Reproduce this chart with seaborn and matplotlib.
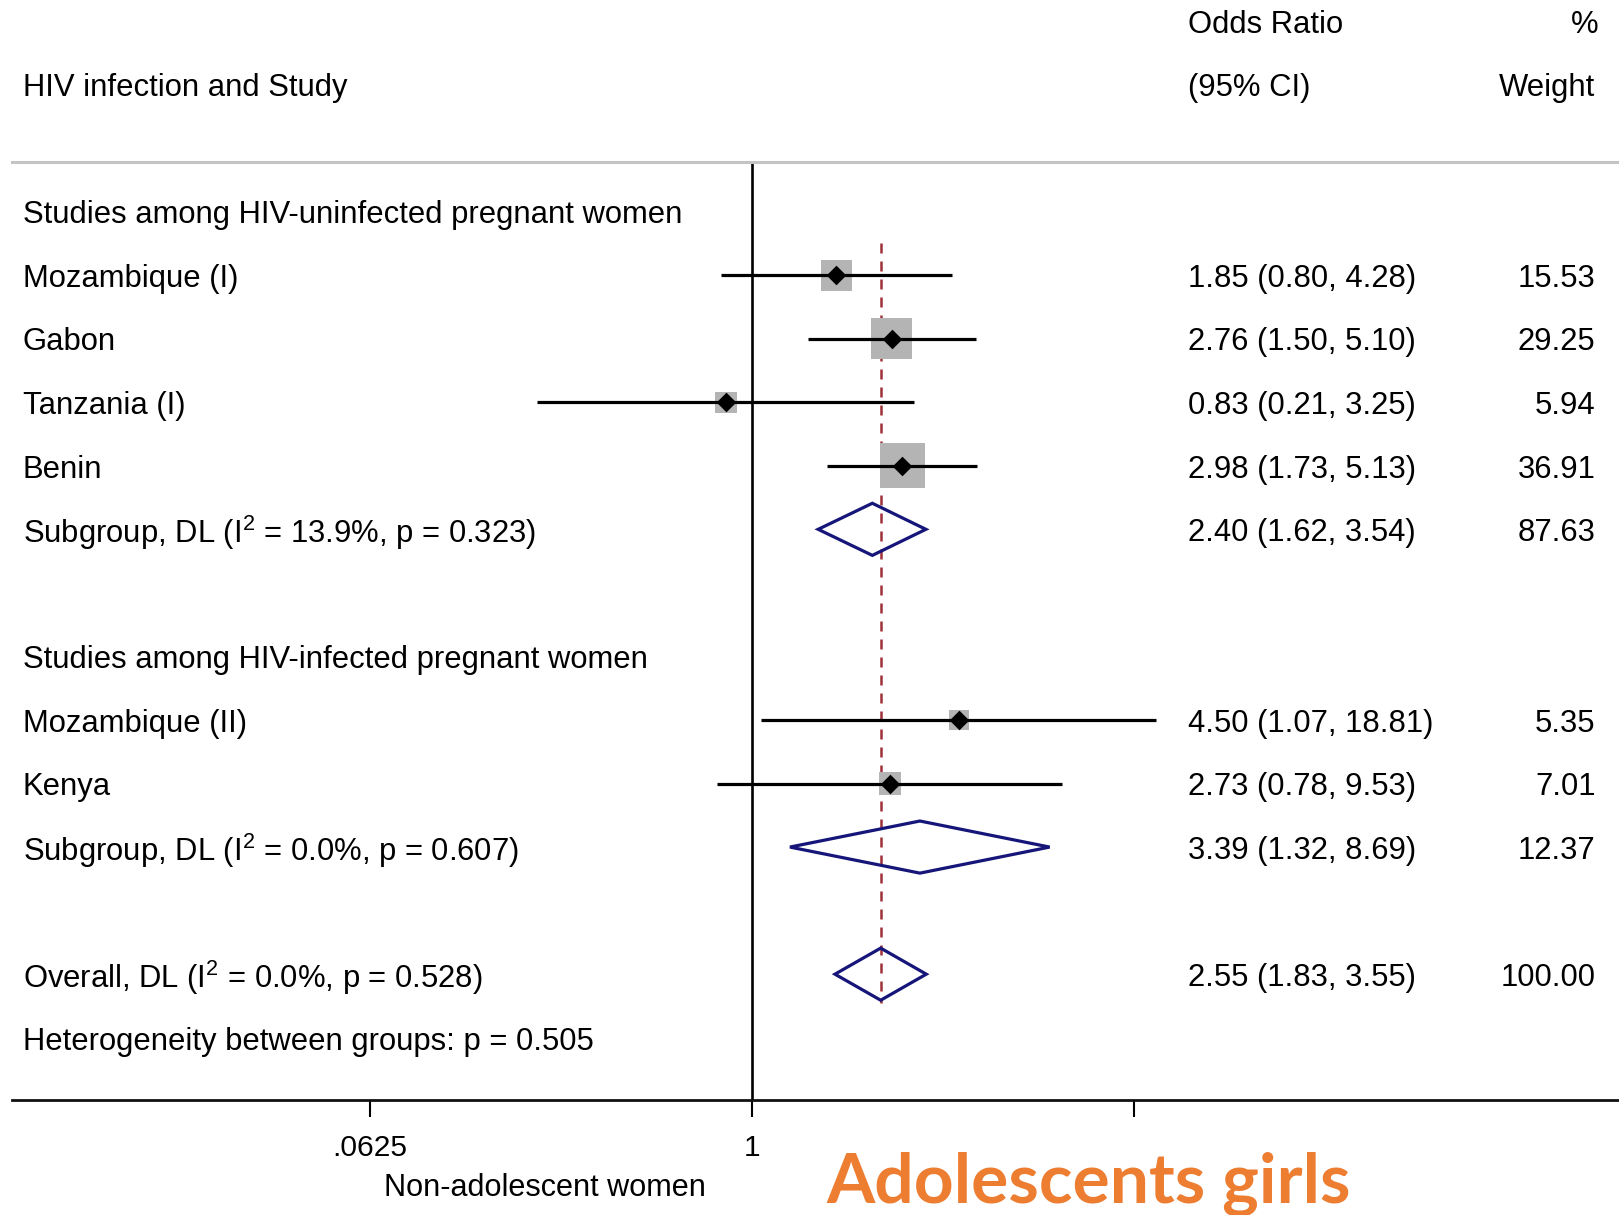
import numpy as np
import pandas as pd
import matplotlib
matplotlib.use("Agg")
import matplotlib.pyplot as plt
import matplotlib.transforms as mtransforms
import seaborn as sns

# ---------------- data ----------------
studies = ["Mozambique (I)", "Gabon", "Tanzania (I)", "Benin", "Mozambique (II)", "Kenya"]
study_or = [1.85, 2.76, 0.83, 2.98, 4.50, 2.73]
study_lo = [0.80, 1.50, 0.21, 1.73, 1.07, 0.78]
study_hi = [4.28, 5.10, 3.25, 5.13, 18.81, 9.53]
study_w = [15.53, 29.25, 5.94, 36.91, 5.35, 7.01]
study_rows = [1, 2, 3, 4, 8, 9]

pooled_labels = ["Subgroup, DL (I$\\mathregular{^2}$ = 13.9%, p = 0.323)",
                 "Subgroup, DL (I$\\mathregular{^2}$ = 0.0%, p = 0.607)",
                 "Overall, DL (I$\\mathregular{^2}$ = 0.0%, p = 0.528)"]
pooled_or = [2.40, 3.39, 2.55]
pooled_lo = [1.62, 1.32, 1.83]
pooled_hi = [3.54, 8.69, 3.55]
pooled_w = [87.63, 12.37, 100.00]
pooled_rows = [5, 10, 12]

group_labels = ["Studies among HIV-uninfected pregnant women",
                "Studies among HIV-infected pregnant women",
                "Heterogeneity between groups: p = 0.505"]
group_rows = [0, 7, 13]

xticks = [0.0625, 1, 16]
xtick_labels = [".0625", "1", ""]

# ---------------- style ----------------
sns.set_theme(style="white")
plt.rcParams['font.family'] = ['Liberation Sans', 'DejaVu Sans']
plt.rcParams['mathtext.fontset'] = 'custom'
plt.rcParams['mathtext.rm'] = 'Liberation Sans'
plt.rcParams['text.color'] = 'black'
plt.rcParams['xtick.color'] = 'black'
plt.rcParams['xtick.labelcolor'] = 'black'

W, H = 1619, 1215
fig = plt.figure(figsize=(W / 100, H / 100), dpi=100)
fig.patch.set_facecolor("white")

left_px, right_px = 12.4, 1619
top_px, bot_px = 162, 1100
ax = fig.add_axes([left_px / W, 1 - bot_px / H, (right_px - left_px) / W, (bot_px - top_px) / H])
ax.set_facecolor("white")

ax.set_xscale("log")
ax.set_xlim(np.exp(-5.365), np.exp(6.294))
ax.set_ylim(13.98, -0.78)

FS = 22.3
navy = "#15157a"

df = pd.DataFrame({"study": studies, "or": study_or, "lo": study_lo, "hi": study_hi,
                   "w": study_w, "row": study_rows})

# weight squares
side_px = 5.2 + 6.54 * np.sqrt(df["w"].to_numpy())
side_pt = side_px * 0.72
ax.scatter(df["or"], df["row"], s=side_pt ** 2, marker="s", color="#b4b4b4",
           linewidths=0, zorder=2)
# CI lines
ax.hlines(df["row"], df["lo"], df["hi"], color="black", lw=2.3, zorder=3)
# point estimates
sns.scatterplot(data=df, x="or", y="row", marker="D", color="black", s=100,
                linewidth=0, ax=ax, zorder=4, legend=False)

# null line
ax.axvline(1, color="black", lw=1.9, zorder=1)
# overall dashed line
ax.vlines(pooled_or[-1], 0.5, 12.45, color="#a0303a", lw=1.8,
          linestyles=(0, (4, 3.2)), zorder=1)

# pooled diamonds
dh = 0.41
for est, lo, hi, r in zip(pooled_or, pooled_lo, pooled_hi, pooled_rows):
    ax.fill([lo, est, hi, est, lo], [r, r - dh, r, r + dh, r], facecolor="none",
            edgecolor=navy, lw=2.3, zorder=5, joinstyle="miter")

# text columns
tr = mtransforms.blended_transform_factory(ax.transAxes, ax.transData)
def fx(px):
    return (px - left_px) / (right_px - left_px)

x_lab = fx(22.7)
x_or = fx(1187.5)
x_w = fx(1595.5)
dy = 0.06

for name, r in zip(studies, study_rows):
    ax.text(x_lab, r + dy, name, transform=tr, fontsize=FS, va="center", ha="left")
for lab, r in zip(group_labels, group_rows):
    ax.text(x_lab, r + dy, lab, transform=tr, fontsize=FS, va="center", ha="left")
for lab, r in zip(pooled_labels, pooled_rows):
    ax.text(x_lab, r + dy, lab, transform=tr, fontsize=FS, va="center", ha="left")

for est, lo, hi, w, r in zip(study_or + pooled_or, study_lo + pooled_lo,
                             study_hi + pooled_hi, study_w + pooled_w,
                             study_rows + pooled_rows):
    ax.text(x_or, r + dy, f"{est:.2f} ({lo:.2f}, {hi:.2f})", transform=tr, fontsize=FS,
            va="center", ha="left")
    ax.text(x_w, r + dy, f"{w:.2f}", transform=tr, fontsize=FS, va="center", ha="right")

# headers
ax.text(x_or, -3.0 + dy, "Odds Ratio", transform=tr, fontsize=FS, va="center", ha="left", clip_on=False)
ax.text(fx(1598.5), -3.0 + dy, "%", transform=tr, fontsize=FS, va="center", ha="right", clip_on=False)
ax.text(x_lab, -2.0 + dy, "HIV infection and Study", transform=tr, fontsize=FS, va="center", ha="left", clip_on=False)
ax.text(x_or, -2.0 + dy, "(95% CI)", transform=tr, fontsize=FS, va="center", ha="left", clip_on=False)
ax.text(x_w, -2.0 + dy, "Weight", transform=tr, fontsize=FS, va="center", ha="right", clip_on=False)

# spines / axis
for s in ["left", "right"]:
    ax.spines[s].set_visible(False)
ax.spines["top"].set_color("#c4c4c4")
ax.spines["top"].set_linewidth(2.2)
ax.spines["bottom"].set_color("#111111")
ax.spines["bottom"].set_linewidth(2.0)
ax.set_yticks([])
ax.set_xlabel("")
ax.set_ylabel("")
ax.set_xticks(xticks)
ax.set_xticklabels(xtick_labels, fontsize=FS * 0.97)
ax.xaxis.set_minor_locator(matplotlib.ticker.NullLocator())
ax.tick_params(axis="x", which="major", direction="out", length=12.5, width=1.5,
               color="black", labelcolor="black", pad=12, bottom=True)
ax.grid(False)

# x-axis label
fig.text(545 / W, 1 - 1188 / H, "Non-adolescent women", fontsize=FS * 0.99,
         ha="center", va="center", color="black")

# overlay annotation
fig.text(1089 / W, 1 - 1203 / H, "Adolescents girls", fontsize=50, color="#ED7D31",
         fontweight="bold", family=["Lato", "DejaVu Sans"], ha="center", va="baseline")

fig.savefig("out.png", dpi=100, facecolor="white")
